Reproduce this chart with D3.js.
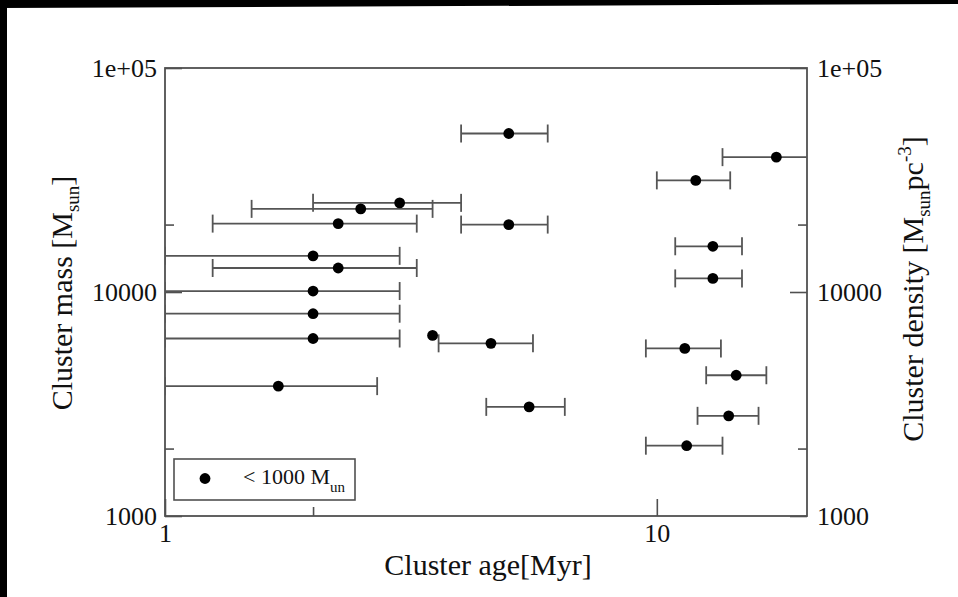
<!DOCTYPE html>
<html>
<head>
<meta charset="utf-8">
<script src="https://cdn.jsdelivr.net/npm/d3@7/dist/d3.min.js"></script>
<style>
  body { margin:0; background:#fff; }
  svg { display:block; }
  text { font-family:"Liberation Serif","Times New Roman",serif; fill:#111; }
</style>
</head>
<body>
<div id="chart"></div>
<script>
// cluster age [Myr] with horizontal error range, cluster mass [Msun]
let ages   = [5.0, 17.5, 12.0, 3.0, 2.5, 2.25, 5.0, 2.0, 2.25, 2.0, 2.0, 2.0, 3.5, 4.6, 11.4, 14.5, 13.0, 13.0, 1.7, 5.5, 14.0, 11.5]
let ageLo  = [4.0, 13.6, 10.0, 2.0, 1.5, 1.25, 4.0, 1.0, 1.25, 1.0, 1.0, 1.0, null, 3.6, 9.5, 12.6, 10.9, 10.9, 1.0, 4.5, 12.1, 9.5]
let ageHi  = [6.0, 22.0, 14.1, 4.0, 3.5, 3.25, 6.0, 3.0, 3.25, 3.0, 3.0, 3.0, null, 5.6, 13.5, 16.7, 14.9, 14.9, 2.7, 6.5, 16.1, 13.6]
let masses = [51000, 40000, 31500, 25000, 23500, 20200, 20000, 14500, 12800, 10100, 8000, 6200, 6400, 5900, 5600, 4250, 16000, 11500, 3800, 3070, 2800, 2060]

let xMajor = [1, 10], xMinor = [2]
let xTickLabels = ["1", "10"]
let yMajor = [1000, 10000, 100000], yMinor = [2000, 20000]
let yTickLabels = ["1000", "10000", "1e+05"]
let legendLabel = "< 1000 M", legendSub = "un"

let width = 958, height = 597
let plot = { left:165, right:807, top:68, bottom:516 }
let axisColor = "#505050", barColor = "#555"

let data = ages.map((a,i) => ({ age:a, lo:ageLo[i], hi:ageHi[i], mass:masses[i] }))

let x = d3.scaleLog().domain([1, 20.2]).range([plot.left, plot.right])
let y = d3.scaleLog().domain([1000, 100000]).range([plot.bottom, plot.top])

let svg = d3.select("#chart").append("svg")
  .attr("width", width)
  .attr("height", height)

svg.append("rect").attr("width", width).attr("height", height).attr("fill", "#fff")
// black scan edges
svg.append("path").attr("d", "M0,0H958V4L0,8Z").attr("fill", "#000")
svg.append("rect").attr("width", 7).attr("height", height).attr("fill", "#000")

svg.append("clipPath").attr("id", "clip")
  .append("rect")
  .attr("x", plot.left).attr("y", plot.top)
  .attr("width", plot.right - plot.left).attr("height", plot.bottom - plot.top)

function styleAxis(g){
  g.select(".domain").remove()
  g.selectAll(".tick line").attr("stroke", axisColor).attr("stroke-width", 1.6)
  g.selectAll(".tick text").attr("font-size", 26).attr("fill", "#111")
    .attr("font-family", "Liberation Serif, serif")
}

// major + minor ticks, all pointing inward
svg.append("g").attr("transform", `translate(0,${plot.bottom})`)
  .call(d3.axisBottom(x).tickValues(xMajor).tickFormat((d,i) => xTickLabels[i]).tickSizeInner(-17).tickSizeOuter(0).tickPadding(8))
  .call(styleAxis)
svg.append("g").attr("transform", `translate(0,${plot.bottom})`)
  .call(d3.axisBottom(x).tickValues(xMinor).tickFormat("").tickSizeInner(-9).tickSizeOuter(0))
  .call(styleAxis)

svg.append("g").attr("transform", `translate(${plot.left},0)`)
  .call(d3.axisLeft(y).tickValues(yMajor).tickFormat((d,i) => yTickLabels[i]).tickSizeInner(-17).tickSizeOuter(0).tickPadding(8))
  .call(styleAxis)
svg.append("g").attr("transform", `translate(${plot.left},0)`)
  .call(d3.axisLeft(y).tickValues(yMinor).tickFormat("").tickSizeInner(-9).tickSizeOuter(0))
  .call(styleAxis)

svg.append("g").attr("transform", `translate(${plot.right},0)`)
  .call(d3.axisRight(y).tickValues(yMajor).tickFormat((d,i) => yTickLabels[i]).tickSizeInner(-17).tickSizeOuter(0).tickPadding(10))
  .call(styleAxis)
svg.append("g").attr("transform", `translate(${plot.right},0)`)
  .call(d3.axisRight(y).tickValues(yMinor).tickFormat("").tickSizeInner(-9).tickSizeOuter(0))
  .call(styleAxis)

// frame
svg.append("rect")
  .attr("x", plot.left).attr("y", plot.top)
  .attr("width", plot.right - plot.left).attr("height", plot.bottom - plot.top)
  .attr("fill", "none").attr("stroke", axisColor).attr("stroke-width", 1.8)

// error bars
let bars = svg.append("g").attr("clip-path", "url(#clip)")
  .attr("stroke", barColor).attr("stroke-width", 1.8).attr("fill", "none")
let withBars = data.filter(d => d.lo != null)
bars.selectAll(".bar").data(withBars).enter().append("line")
  .attr("x1", d => x(d.lo)).attr("x2", d => x(d.hi))
  .attr("y1", d => y(d.mass)).attr("y2", d => y(d.mass))
bars.selectAll(".capLo").data(withBars).enter().append("line")
  .attr("x1", d => x(d.lo)).attr("x2", d => x(d.lo))
  .attr("y1", d => y(d.mass) - 9).attr("y2", d => y(d.mass) + 9)
bars.selectAll(".capHi").data(withBars).enter().append("line")
  .attr("x1", d => x(d.hi)).attr("x2", d => x(d.hi))
  .attr("y1", d => y(d.mass) - 9).attr("y2", d => y(d.mass) + 9)

svg.append("g").selectAll("circle")
  .data(data).enter().append("circle")
  .attr("cx", d => x(d.age))
  .attr("cy", d => y(d.mass))
  .attr("r", 5.4)
  .attr("fill", "#000")

// legend
let leg = svg.append("g")
leg.append("rect").attr("x", 174).attr("y", 459).attr("width", 181).attr("height", 41)
  .attr("fill", "#fff").attr("stroke", axisColor).attr("stroke-width", 1.6)
leg.append("circle").attr("cx", 205).attr("cy", 478.5).attr("r", 5.4).attr("fill", "#000")
let lt = leg.append("text").attr("x", 243).attr("y", 484).attr("font-size", 22)
lt.append("tspan").text(legendLabel)
lt.append("tspan").attr("font-size", 15).attr("dy", 7.5).text(legendSub)

// axis titles
svg.append("text")
  .attr("x", (plot.left + plot.right) / 2 + 2).attr("y", 575)
  .attr("text-anchor", "middle").attr("font-size", 30)
  .text("Cluster age[Myr]")

let yl = svg.append("text")
  .attr("transform", "translate(72,293) rotate(-90)")
  .attr("text-anchor", "middle").attr("font-size", 30)
yl.append("tspan").text("Cluster mass [M")
yl.append("tspan").attr("font-size", 19).attr("dy", 7).text("sun")
yl.append("tspan").attr("dy", -7).text("]")

let yr = svg.append("text")
  .attr("transform", "translate(923,289) rotate(-90)")
  .attr("text-anchor", "middle").attr("font-size", 30)
yr.append("tspan").text("Cluster density [M")
yr.append("tspan").attr("font-size", 19).attr("dy", 7).text("sun")
yr.append("tspan").attr("dy", -7).text("pc")
yr.append("tspan").attr("font-size", 19).attr("dy", -12).text("-3")
yr.append("tspan").attr("dy", 12).text("]")
</script>
</body>
</html>
